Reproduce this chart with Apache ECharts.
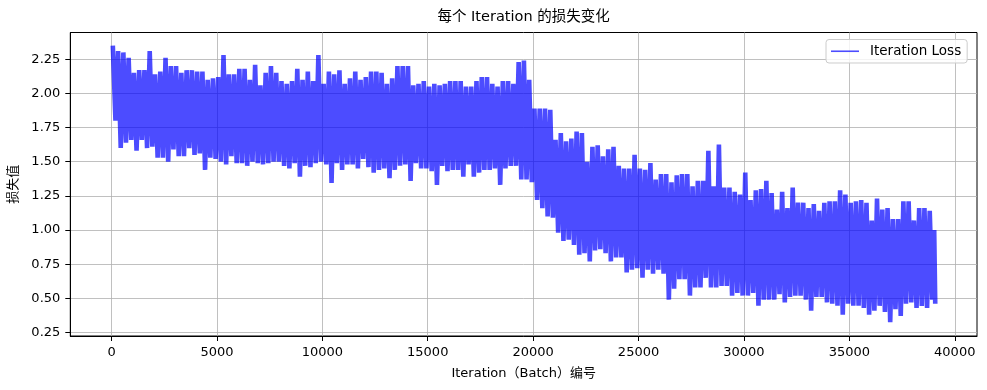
<!DOCTYPE html>
<html><head><meta charset="utf-8">
<script src="https://cdn.jsdelivr.net/npm/echarts@6/dist/echarts.min.js"></script>
<style>html,body{margin:0;padding:0;background:#fff}#c{width:987px;height:390px}</style>
</head><body><div id="c"></div>
<script>
// ---- data (per 250-iteration bucket: highest and lowest loss) ----
const TOTAL_ITERATIONS = 39100;
const BUCKET_SIZE = 250;
const bucketHigh = [
 2.35,2.31,2.30,2.26,2.15,2.17,2.17,2.31,2.14,2.16,
 2.26,2.20,2.20,2.15,2.17,2.17,2.16,2.16,2.10,2.11,
 2.12,2.28,2.14,2.14,2.18,2.18,2.10,2.21,2.06,2.15,
 2.20,2.15,2.09,2.07,2.09,2.18,2.10,2.16,2.09,2.28,
 2.07,2.16,2.14,2.17,2.07,2.11,2.16,2.10,2.12,2.16,
 2.16,2.15,2.07,2.11,2.20,2.20,2.20,2.06,2.07,2.09,
 2.05,2.07,2.06,2.07,2.09,2.09,2.09,2.05,2.05,2.09,
 2.12,2.12,2.07,2.05,2.09,2.09,2.07,2.23,2.24,2.10,
 1.89,1.89,1.89,1.88,1.66,1.71,1.65,1.67,1.72,1.71,
 1.50,1.61,1.62,1.54,1.59,1.61,1.47,1.45,1.45,1.55,
 1.45,1.44,1.49,1.37,1.41,1.41,1.35,1.40,1.41,1.41,
 1.32,1.36,1.36,1.58,1.32,1.625,1.31,1.31,1.28,1.26,
 1.42,1.22,1.29,1.30,1.36,1.27,1.15,1.28,1.16,1.31,
 1.20,1.20,1.16,1.19,1.14,1.20,1.21,1.21,1.29,1.26,
 1.20,1.21,1.22,1.20,1.07,1.23,1.15,1.16,1.08,1.08,
 1.21,1.21,1.07,1.16,1.16,1.14,1.00
];
const bucketLow = [
 1.80,1.60,1.64,1.66,1.58,1.66,1.60,1.61,1.53,1.53,
 1.50,1.59,1.54,1.54,1.60,1.55,1.56,1.44,1.53,1.52,
 1.50,1.48,1.54,1.49,1.49,1.47,1.50,1.49,1.48,1.49,
 1.50,1.50,1.47,1.45,1.49,1.39,1.47,1.46,1.49,1.50,
 1.48,1.345,1.49,1.44,1.48,1.48,1.45,1.52,1.46,1.42,
 1.44,1.45,1.38,1.44,1.47,1.48,1.36,1.49,1.45,1.45,
 1.43,1.33,1.47,1.43,1.44,1.44,1.39,1.48,1.39,1.42,
 1.44,1.44,1.45,1.33,1.45,1.47,1.47,1.37,1.37,1.35,
 1.22,1.16,1.10,1.09,0.98,0.92,0.93,0.89,0.82,0.83,
 0.77,0.85,0.86,0.83,0.77,0.80,0.80,0.69,0.71,0.72,
 0.65,0.71,0.68,0.71,0.68,0.49,0.57,0.64,0.64,0.52,
 0.58,0.58,0.65,0.58,0.58,0.59,0.59,0.52,0.54,0.52,
 0.52,0.54,0.445,0.49,0.49,0.49,0.53,0.47,0.51,0.52,
 0.52,0.49,0.41,0.51,0.51,0.47,0.46,0.445,0.38,0.46,
 0.445,0.445,0.43,0.38,0.41,0.445,0.40,0.325,0.42,0.37,
 0.46,0.47,0.43,0.445,0.43,0.49,0.46
];
const xTickValues = [0,5000,10000,15000,20000,25000,30000,35000,40000];
const yTickValues = [0.25,0.50,0.75,1.00,1.25,1.50,1.75,2.00,2.25];
const titleText = '每个 Iteration 的损失变化';
const xAxisName = 'Iteration（Batch）编号';
const yAxisName = '损失值';
const seriesName = 'Iteration Loss';

// ---- build the trace: alternate each bucket's high and low reading ----
const points = [];
bucketHigh.forEach((h, i) => {
  const start = i * BUCKET_SIZE;
  const w = Math.min(BUCKET_SIZE, TOTAL_ITERATIONS - 1 - start);
  points.push([start + w * 0.25, h]);
  points.push([start + w * 0.75, bucketLow[i]]);
});

const FONT = "'DejaVu Sans', 'Noto Sans CJK SC', sans-serif";
const chart = echarts.init(document.getElementById('c'), null, {renderer: 'canvas'});
chart.setOption({
  animation: false,
  backgroundColor: '#fff',
  title: {
    text: titleText, left: 518.6, top: 5, textAlign: 'center',
    textStyle: {fontFamily: FONT, fontSize: 14.5, fontWeight: 'normal', color: '#000'}
  },
  legend: {
    left: 826, top: 39.5, selectedMode: false,
    data: [{name: seriesName, icon: 'rect'}],
    itemWidth: 28, itemHeight: 1.6,
    itemStyle: {color: 'rgba(0,0,255,0.7)'},
    textStyle: {fontFamily: FONT, fontSize: 13.5, color: '#000', padding: [0, 0, 0, 6]},
    padding: [5, 6, 5, 5],
    borderColor: '#cccccc', borderWidth: 1, borderRadius: 3,
    backgroundColor: 'rgba(255,255,255,0.8)'
  },
  grid: {
    left: 70.3, right: 10, top: 32.5, bottom: 54,
    show: true, borderColor: '#000', borderWidth: 1,
    outerBoundsMode: 'none'
  },
  xAxis: {
    type: 'value', min: -1955, max: 41055,
    name: xAxisName, nameLocation: 'middle', nameGap: 31,
    nameTextStyle: {fontFamily: FONT, fontSize: 13, color: '#000'},
    axisLine: {show: true, onZero: false, lineStyle: {color: '#000', width: 1}},
    axisTick: {show: true, inside: false, length: 5, customValues: xTickValues, lineStyle: {color: '#000', width: 1}},
    axisLabel: {customValues: xTickValues, margin: 10, fontFamily: FONT, fontSize: 13, color: '#000',
      formatter: v => String(v)},
    splitLine: {show: true, lineStyle: {color: '#b0b0b0', width: 0.8}}
  },
  yAxis: {
    type: 'value', min: 0.224, max: 2.446,
    name: yAxisName, nameLocation: 'middle', nameGap: 44,
    nameTextStyle: {fontFamily: FONT, fontSize: 13, color: '#000'},
    axisLine: {show: true, onZero: false, lineStyle: {color: '#000', width: 1}},
    axisTick: {show: true, inside: false, length: 5, customValues: yTickValues, lineStyle: {color: '#000', width: 1}},
    axisLabel: {customValues: yTickValues, margin: 10, fontFamily: FONT, fontSize: 13, color: '#000',
      formatter: v => v.toFixed(2)},
    splitLine: {show: true, lineStyle: {color: '#b0b0b0', width: 0.8}}
  },
  series: [{
    type: 'line', name: seriesName, data: points,
    showSymbol: false, symbol: 'none', silent: true,
    lineStyle: {color: 'rgba(0,0,255,0.7)', width: 4.6, join: 'bevel'},
    itemStyle: {color: 'rgba(0,0,255,0.7)'}
  }]
});
</script></body></html>
